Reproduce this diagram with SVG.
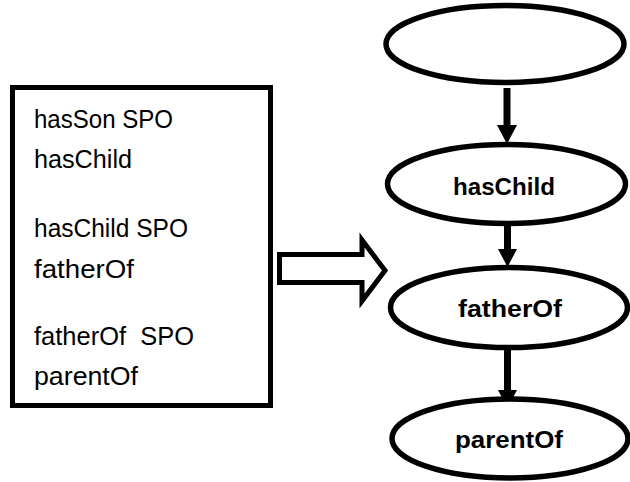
<svg xmlns="http://www.w3.org/2000/svg" width="630" height="482" viewBox="0 0 630 482">
  <style>
    .frame { fill: #fff; stroke: #000; stroke-width: 5; }
    .node { fill: #fff; stroke: #000; stroke-width: 5.5; }
    .rule { font-family: "Liberation Sans", Arial, sans-serif; font-size: 25px; fill: #000; white-space: pre; }
    .label { font-family: "Liberation Sans", Arial, sans-serif; font-size: 24px; font-weight: bold; fill: #000; text-anchor: middle; }
    .edge { stroke: #000; stroke-width: 7; fill: none; }
    .head { fill: #000; stroke: none; }
  </style>
  <rect width="630" height="482" fill="#fff"/>

  <!-- rule list -->
  <g id="rules">
    <rect class="frame" x="12.5" y="87.5" width="258" height="318"/>
    <text class="rule" x="34" y="128" textLength="139" lengthAdjust="spacingAndGlyphs">hasSon SPO</text>
    <text class="rule" x="34" y="168" textLength="98" lengthAdjust="spacingAndGlyphs">hasChild</text>
    <text class="rule" x="34" y="237" textLength="154" lengthAdjust="spacingAndGlyphs">hasChild SPO</text>
    <text class="rule" x="34" y="278" textLength="100" lengthAdjust="spacingAndGlyphs">fatherOf</text>
    <text class="rule" x="34" y="345" textLength="160" lengthAdjust="spacingAndGlyphs" xml:space="preserve">fatherOf  SPO</text>
    <text class="rule" x="34" y="385" textLength="104" lengthAdjust="spacingAndGlyphs">parentOf</text>
  </g>

  <!-- hollow block arrow -->
  <g id="transform">
    <polygon points="279.5,254.5 362,254.5 362,240 385,270.5 362,301 362,282.5 279.5,282.5" fill="#fff" stroke="#000" stroke-width="5" stroke-linejoin="miter"/>
  </g>

  <!-- hierarchy connectors -->
  <g id="connectors">
    <line class="edge" x1="507" y1="88" x2="507" y2="127"/>
    <polygon class="head" points="497,125 517,125 507,144"/>
    <line class="edge" x1="507.5" y1="226" x2="507.5" y2="251"/>
    <polygon class="head" points="498,249 517,249 507.5,267"/>
    <line class="edge" x1="507.5" y1="349" x2="507.5" y2="392"/>
    <polygon class="head" points="498,390 517,390 507.5,408"/>
  </g>

  <!-- property nodes -->
  <g id="node-top">
    <ellipse class="node" cx="505" cy="44" rx="119" ry="38.5"/>
  </g>
  <g id="node-hasChild">
    <ellipse class="node" cx="506.5" cy="184" rx="119" ry="39.5"/>
    <text class="label" x="504" y="195" textLength="102" lengthAdjust="spacingAndGlyphs">hasChild</text>
  </g>
  <g id="node-fatherOf">
    <ellipse class="node" cx="509" cy="307.5" rx="118.5" ry="40"/>
    <text class="label" x="510" y="317" textLength="104" lengthAdjust="spacingAndGlyphs">fatherOf</text>
  </g>
  <g id="node-parentOf">
    <ellipse class="node" cx="510" cy="438.5" rx="118" ry="39.5"/>
    <text class="label" x="509" y="448" textLength="108" lengthAdjust="spacingAndGlyphs">parentOf</text>
  </g>
</svg>
